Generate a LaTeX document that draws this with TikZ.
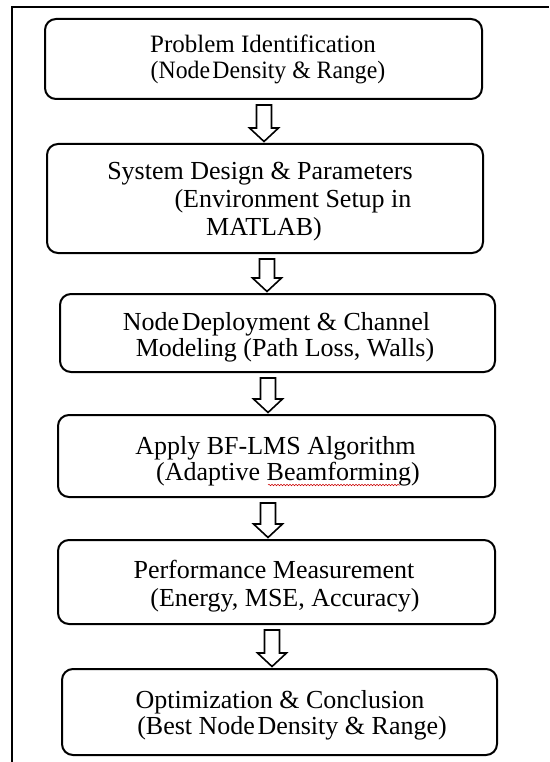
\documentclass[tikz,border=0pt]{standalone}
\usepackage{fontspec}
\setmainfont{Liberation Serif}
\usetikzlibrary{calc,decorations.pathmorphing}
\newcommand{\blockarr}[3]{%
  \draw[blk] let \p1=(#1.south), \p2=(#2.north) in
    (#3pt-7.5pt,\y1-5pt) -- (#3pt+7.5pt,\y1-5pt) -- (#3pt+7.5pt,\y2+15pt) --
    (#3pt+14.5pt,\y2+15pt) -- (#3pt,\y2+1.5pt) -- (#3pt-14.5pt,\y2+15pt) --
    (#3pt-7.5pt,\y2+15pt) -- cycle;}
\newcommand{\nsp}{\hspace{0.1em}}
\begin{document}
\begin{tikzpicture}[x=1pt,y=-1pt,
  stepbox/.style={draw=black, line width=2pt, rounded corners=11pt, inner sep=0pt},
  txt/.style={anchor=base, inner sep=0pt, font=\fontsize{26}{30}\selectfont},
  txtsmall/.style={anchor=base, inner sep=0pt, font=\fontsize{25}{30}\selectfont},
  blk/.style={draw=black, line width=1.6pt, fill=white, line join=miter},
  frame/.style={draw=black, line width=2.6pt}]
\useasboundingbox (0,0) rectangle (549,762);
\fill[white] (0,0) rectangle (549,762);
% frame
\coordinate (fb) at (12,762);
\coordinate (fc) at (12,7);
\coordinate (fr) at (549,7);
\draw[frame] (fb) -- (fc) -- (fr);
% boxes
\node[stepbox, minimum width=437pt, minimum height=80pt] (b1) at (263.5,59) {};
\node[stepbox, minimum width=436pt, minimum height=109pt] (b2) at (265,198.5) {};
\node[stepbox, minimum width=435pt, minimum height=78pt] (b3) at (277.5,333) {};
\node[stepbox, minimum width=437pt, minimum height=82pt] (b4) at (276.5,456) {};
\node[stepbox, minimum width=437pt, minimum height=84pt] (b5) at (276.5,582) {};
\node[stepbox, minimum width=435pt, minimum height=86pt] (b6) at (279.5,712) {};
% texts
\node[txtsmall] (t1a) at (263,53) {Problem Identification};
\node[txtsmall] (t1b) at (268,79) {\scalebox{0.95}[1]{(Node\nsp Density \& Range)}};
\node[txt] (t2a) at (260,179) {System Design \& Parameters};
\node[txt] (t2b) at (293,207) {(Environment Setup in};
\node[txt] (t2c) at (264,235) {MATLAB)};
\node[txt] (t3a) at (276.5,330) {Node\nsp Deployment \& Channel};
\node[txt] (t3b) at (285,356) {Modeling (Path Loss, Walls)};
\node[txt] (t4a) at (275.5,454) {Apply BF-LMS Algorithm};
\node[txt] (t4b) at (288,480) {(Adaptive Beamforming)};
\node[txt] (t5a) at (274,578) {Performance Measurement};
\node[txt] (t5b) at (285,606) {(Energy, MSE, Accuracy)};
\node[txt] (t6a) at (280,708) {Optimization \& Conclusion};
\node[txt] (t6b) at (292,734) {(Best Node\nsp Density \& Range)};
% spell-check squiggle
\coordinate (s1) at (268,485);
\coordinate (s2) at (400,485);
\draw[red!80!black, line width=0.5pt, decorate, decoration={snake, amplitude=0.8pt, segment length=3pt}] (s1) -- (s2);
% arrows
\blockarr{b1}{b2}{264}
\blockarr{b2}{b3}{267}
\blockarr{b3}{b4}{268}
\blockarr{b4}{b5}{268}
\blockarr{b5}{b6}{272}
\end{tikzpicture}
\end{document}
